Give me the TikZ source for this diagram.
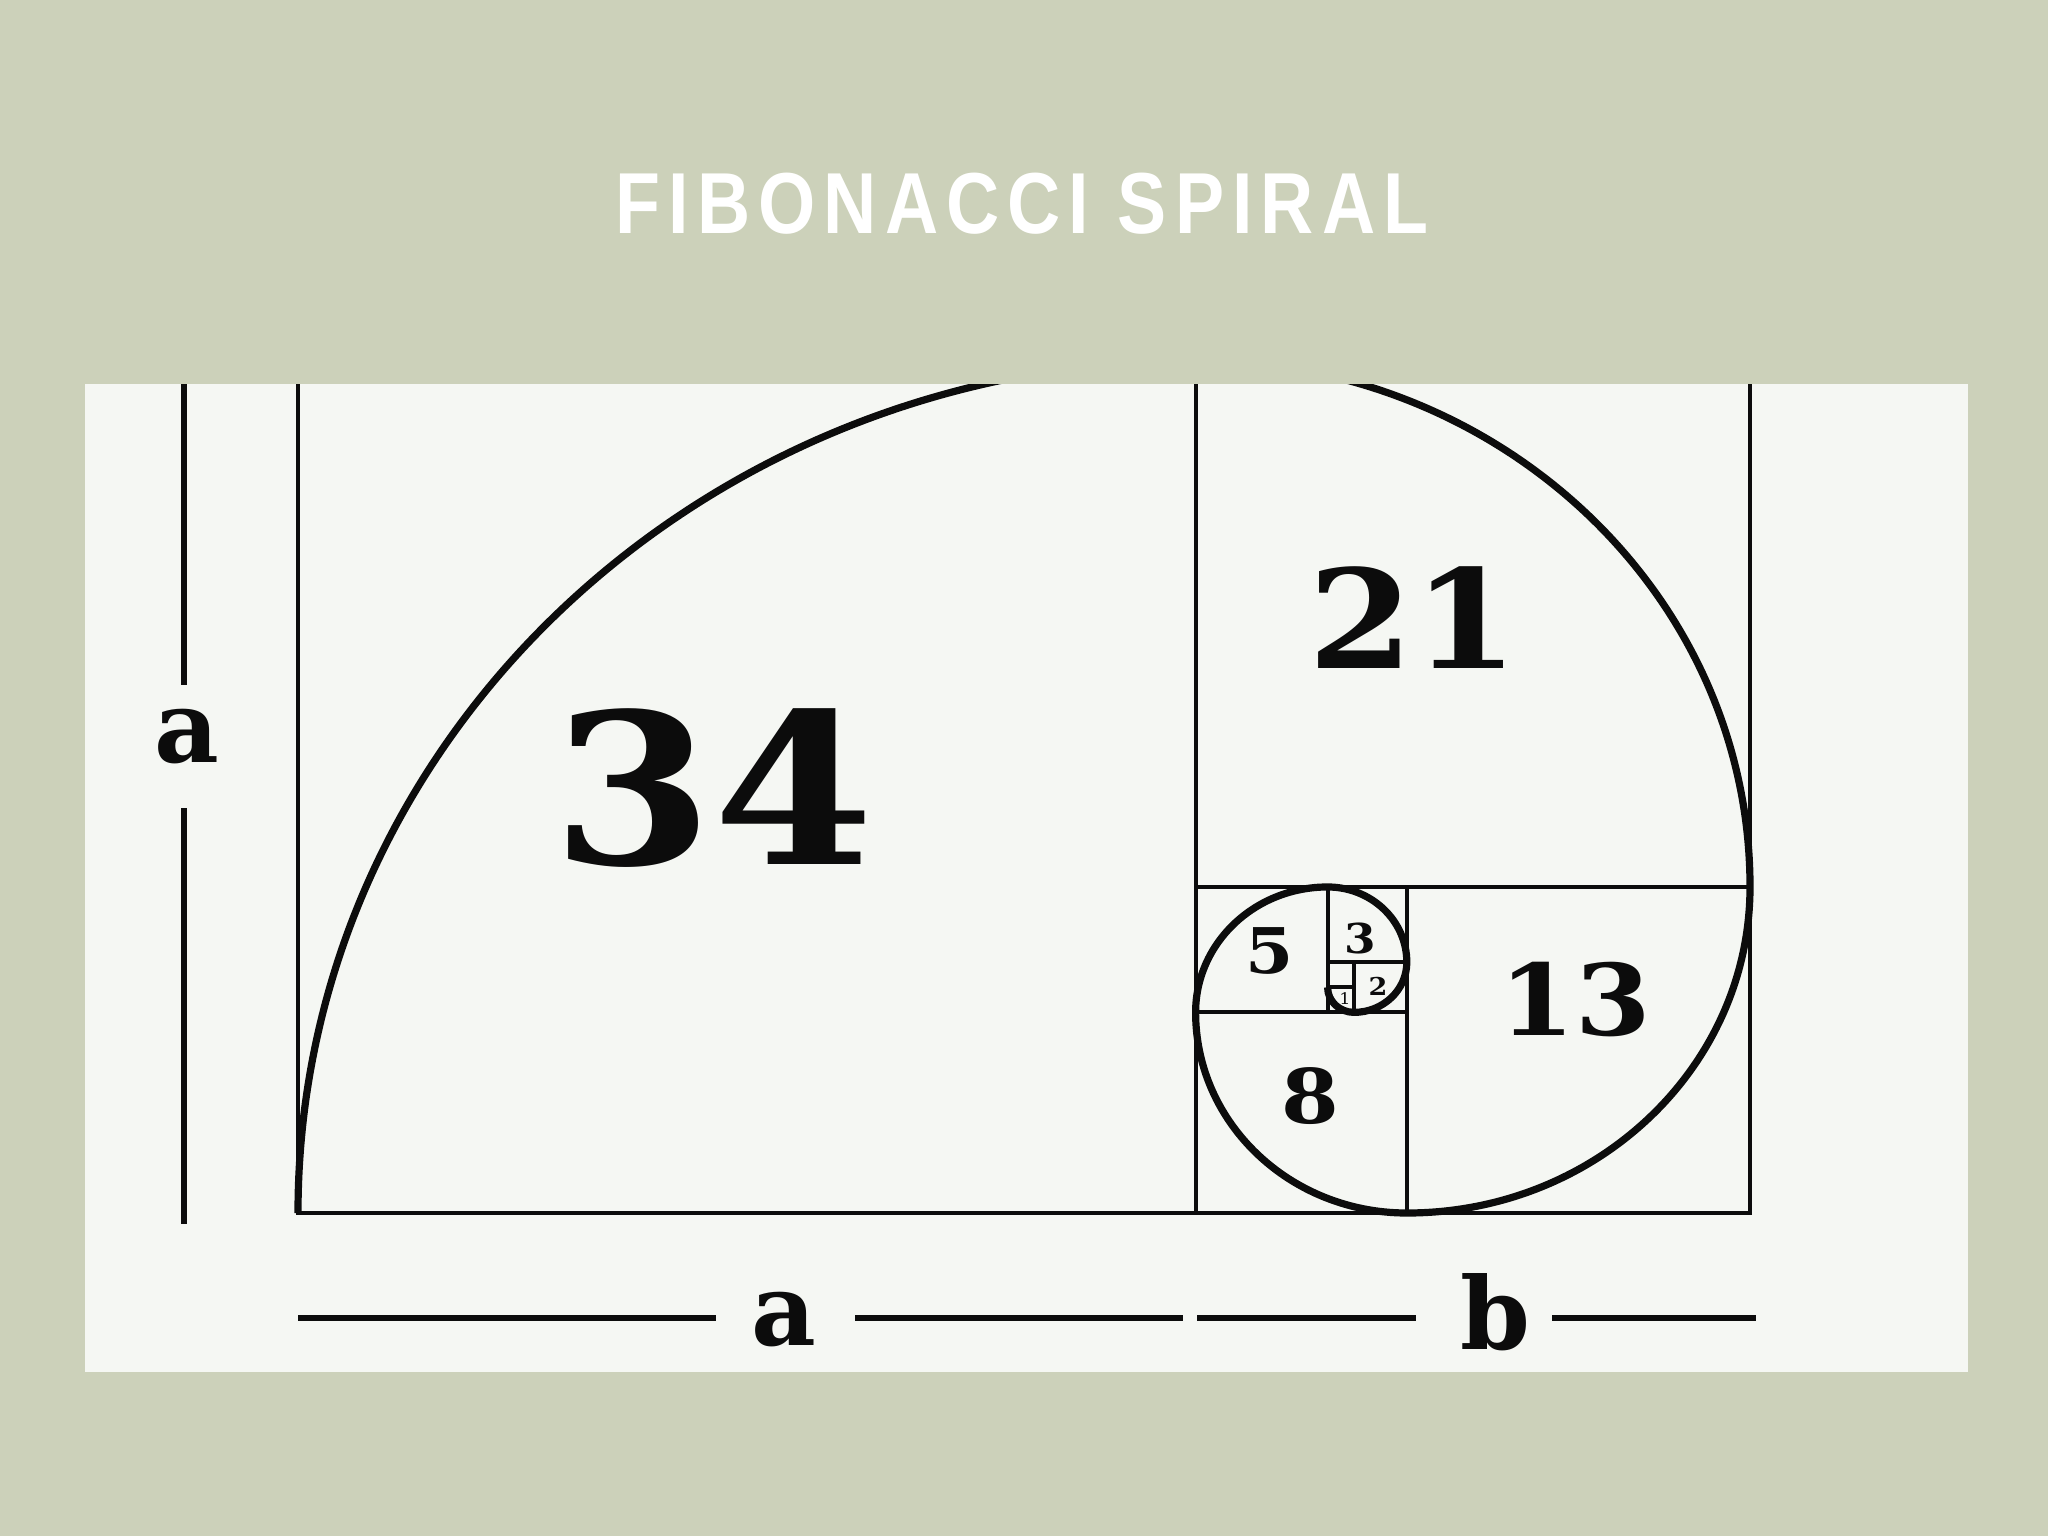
\documentclass[tikz,border=0pt]{standalone}
\usepackage{fontspec}
\newfontfamily\numfont{DejaVu Serif}
\newfontfamily\titlefont{Liberation Sans}[LetterSpace=11]
\definecolor{bgc}{RGB}{204,209,186}
\definecolor{panelc}{RGB}{245,247,243}
\definecolor{inkc}{RGB}{12,12,12}
\tikzset{
  gridline/.style={draw=inkc, line width=2pt},
  spiralline/.style={draw=inkc, line width=3.6pt},
  dimline/.style={draw=inkc, line width=3.4pt},
  numlabel/.style={inner sep=0pt, text=inkc, xscale=1.1},
  dimlabel/.style={inner sep=0pt, anchor=base, text=inkc,
     font=\numfont\bfseries\fontsize{50pt}{60pt}\selectfont},
  titlelabel/.style={inner sep=0pt, anchor=base, text=white, xscale=0.85,
     font=\titlefont\bfseries\fontsize{43.3pt}{52pt}\selectfont}
}
\begin{document}
\begin{tikzpicture}[x=0.5pt,y=-0.5pt]
\useasboundingbox (0,0) rectangle (2048,1536);
\fill[bgc] (0,0) rectangle (2048,1536);
\fill[panelc] (85,384) rectangle (1968,1372);
\node[titlelabel] (title) at (1022,233) {FIBONACCI SPIRAL};

\begin{scope}
\clip (85,384) rectangle (1968,1372);
\begin{scope}[shift={(298,1213)}, x=13.2pt, y=12.54pt]
  % squares
  \draw[gridline] (0,36) -- (0,0) -- (55,0) -- (55,36);
  \draw[gridline] (34,0) -- (34,36);
  \draw[gridline] (34,13) -- (55,13);
  \draw[gridline] (42,0) -- (42,13);
  \draw[gridline] (34,8) -- (42,8);
  \draw[gridline] (39,8) -- (39,13);
  \draw[gridline] (39,10) -- (42,10);
  \draw[gridline] (40,8) -- (40,10);
  \draw[gridline] (39,9) -- (40,9);
  % spiral
  \draw[spiralline, line join=round]
    (0,0) arc[start angle=180, end angle=90, x radius=34, y radius=34]
          arc[start angle=90, end angle=0, x radius=21, y radius=21]
          arc[start angle=0, end angle=-90, x radius=13, y radius=13]
          arc[start angle=270, end angle=180, x radius=8, y radius=8]
          arc[start angle=180, end angle=90, x radius=5, y radius=5]
          arc[start angle=90, end angle=0, x radius=3, y radius=3]
          arc[start angle=0, end angle=-90, x radius=2, y radius=2]
          arc[start angle=270, end angle=180, x radius=1, y radius=1];
\end{scope}
\end{scope}

% numbers
\node[numlabel, font=\numfont\bfseries\fontsize{105pt}{120pt}\selectfont] (n34) at (713,788) {34};
\node[numlabel, font=\numfont\bfseries\fontsize{68.6pt}{80pt}\selectfont] (n21) at (1413,618) {21};
\node[numlabel, font=\numfont\bfseries\fontsize{49.4pt}{60pt}\selectfont] (n13) at (1575,1000) {13};
\node[numlabel, font=\numfont\bfseries\fontsize{37.7pt}{45pt}\selectfont] (n8) at (1310,1096) {8};
\node[numlabel, font=\numfont\bfseries\fontsize{31.5pt}{38pt}\selectfont] (n5) at (1270,951) {5};
\node[numlabel, font=\numfont\bfseries\fontsize{20.6pt}{25pt}\selectfont] (n3) at (1360,938) {3};
\node[numlabel, font=\numfont\bfseries\fontsize{12.3pt}{15pt}\selectfont] (n2) at (1378,986) {2};
\node[numlabel, font=\numfont\fontsize{8pt}{10pt}\selectfont] (n1) at (1345,999) {1};

% dimension lines
\coordinate (la1) at (184,384);
\coordinate (la2) at (184,685);
\coordinate (la3) at (184,808);
\coordinate (la4) at (184,1224);
\draw[dimline] (la1) -- (la2);
\draw[dimline] (la3) -- (la4);
\node[dimlabel] (aleft) at (187,762) {a};

\coordinate (b1) at (298,1318);
\coordinate (b2) at (716,1318);
\coordinate (b3) at (855,1318);
\coordinate (b4) at (1183,1318);
\coordinate (b5) at (1197,1318);
\coordinate (b6) at (1416,1318);
\coordinate (b7) at (1552,1318);
\coordinate (b8) at (1756,1318);
\draw[dimline] (b1) -- (b2);
\draw[dimline] (b3) -- (b4);
\draw[dimline] (b5) -- (b6);
\draw[dimline] (b7) -- (b8);
\node[dimlabel] (abot) at (784,1345) {a};
\node[dimlabel] (bbot) at (1495,1349) {b};
\end{tikzpicture}
\end{document}
